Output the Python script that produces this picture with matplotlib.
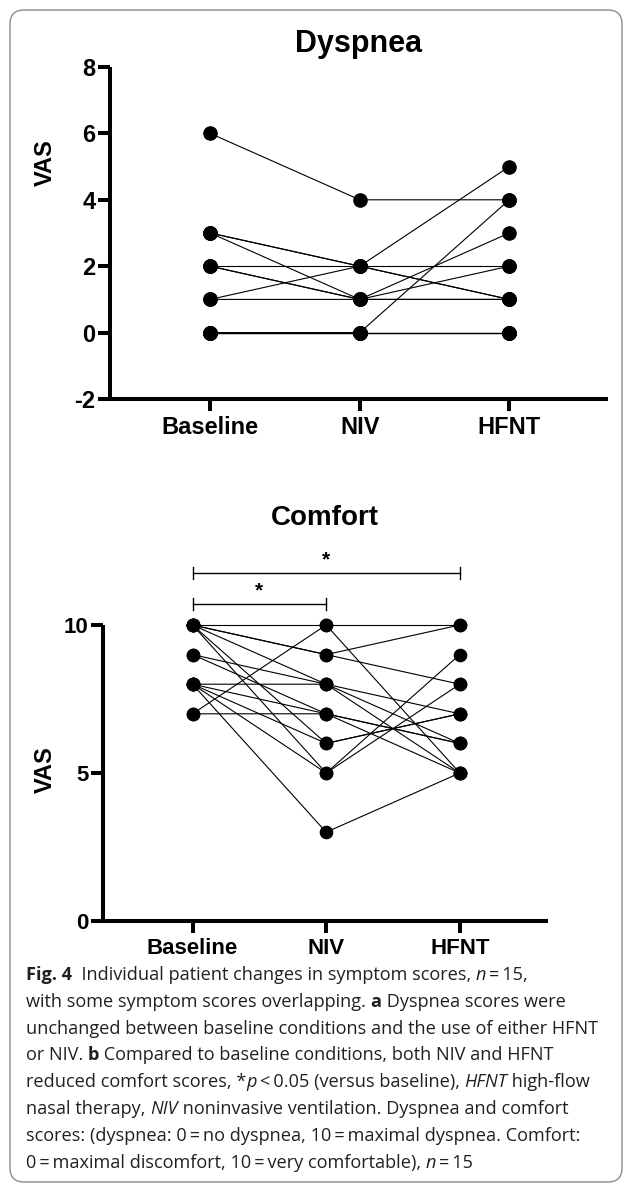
import matplotlib
matplotlib.use("Agg")
import matplotlib.pyplot as plt
from matplotlib.patches import FancyBboxPatch

# individual patients: score at baseline, NIV, HFNT
categories = ["Baseline", "NIV", "HFNT"]

dysp_baseline = [6, 3, 3, 2, 1, 3, 2, 2, 1, 0, 0, 0, 0, 0, 0]
dysp_niv = [4, 2, 2, 2, 2, 1, 1, 1, 1, 0, 0, 0, 0, 0, 0]
dysp_hfnt = [4, 1, 1, 2, 5, 3, 1, 1, 2, 4, 0, 0, 0, 0, 0]
dysp_ticks = [-2, 0, 2, 4, 6, 8]

comf_baseline = [10, 7, 10, 10, 10, 9, 8, 7, 9, 8, 10, 8, 10, 8, 8]
comf_niv = [10, 10, 9, 9, 8, 8, 8, 7, 7, 7, 6, 6, 5, 5, 3]
comf_hfnt = [10, 5, 10, 8, 7, 6, 5, 6, 6, 5, 7, 7, 9, 8, 5]
comf_ticks = [0, 5, 10]

# significance brackets (from, to, label)
brackets = [(0, 1, "*"), (0, 2, "*")]

W, H = 630, 1190
plt.rcParams['font.family'] = ['Liberation Sans', 'DejaVu Sans']
plt.rcParams['axes.unicode_minus'] = False
fig = plt.figure(figsize=(W / 100, H / 100), dpi=100)


def px_axes(left, top, right, bottom):
    return fig.add_axes([left / W, 1 - bottom / H, (right - left) / W, (bottom - top) / H])


def style_axes(ax, ylab_size, xlab_size):
    for s in ["top", "right"]:
        ax.spines[s].set_visible(False)
    for s in ["left", "bottom"]:
        ax.spines[s].set_linewidth(2.9)
        ax.spines[s].set_capstyle("butt")
    ax.tick_params(axis="both", direction="out", length=8.5, width=2.9, pad=2)
    ax.set_xticks(range(len(categories)))
    ax.set_xticklabels(categories, fontsize=xlab_size, fontweight="bold")
    ax.tick_params(axis="x", pad=4)
    for t in ax.get_yticklabels():
        t.set_fontsize(ylab_size)
        t.set_fontweight("bold")
    ax.set_xlim(-0.67, 2.66)


def draw_patients(ax, b, n, h, ms):
    for i in range(len(b)):
        ax.plot([0, 1, 2], [b[i], n[i], h[i]], color="black", lw=0.8,
                marker="o", ms=ms, mfc="black", mec="black", clip_on=False, zorder=3)


# ---- Dyspnea
ax1 = px_axes(110, 67, 608, 399)
draw_patients(ax1, dysp_baseline, dysp_niv, dysp_hfnt, 9.5)
ax1.set_ylim(-2, 8)
ax1.set_yticks(dysp_ticks)
style_axes(ax1, 17, 17)
fig.text(359 / W, 1 - 44 / H, "Dyspnea", ha="center", va="center", fontsize=22, fontweight="bold")
fig.text(45 / W, 1 - 163 / H, "VAS", ha="center", va="center", rotation=90, fontsize=17, fontweight="bold")

# ---- Comfort
ax2 = px_axes(103, 625, 548, 921)
draw_patients(ax2, comf_baseline, comf_niv, comf_hfnt, 8.8)
ax2.set_ylim(0, 10)
ax2.set_yticks(comf_ticks)
style_axes(ax2, 16, 16)
fig.text(325 / W, 1 - 518 / H, "Comfort", ha="center", va="center", fontsize=20, fontweight="bold")
fig.text(45 / W, 1 - 770 / H, "VAS", ha="center", va="center", rotation=90, fontsize=17, fontweight="bold")

bracket_y = [10.71, 11.76]
for (x0, x1, lab), yb in zip(brackets, bracket_y):
    ax2.plot([x0, x1], [yb, yb], color="black", lw=1.0, clip_on=False)
    for xe in (x0, x1):
        ax2.plot([xe, xe], [yb - 0.2, yb + 0.2], color="black", lw=1.0, clip_on=False)
    ax2.text((x0 + x1) / 2, yb + 0.45, lab, ha="center", va="center", fontsize=15, fontweight="bold")

# ---- border
fig.patches.append(FancyBboxPatch((0.10, 0.08), 6.12, 11.72,
                                  boxstyle="round,pad=0,rounding_size=0.14",
                                  transform=fig.dpi_scale_trans, fill=False,
                                  edgecolor="#8a8a8a", lw=1.0))

# ---- caption
cap_font = ['Open Sans', 'DejaVu Sans']
cap_size = 13.1
cap_color = "#231f20"
renderer = fig.canvas.get_renderer()


def run_width(txt, weight, style):
    t1 = fig.text(0, 0, txt + "x", fontsize=cap_size, family=cap_font, fontweight=weight, fontstyle=style)
    t2 = fig.text(0, 0, "x", fontsize=cap_size, family=cap_font, fontweight=weight, fontstyle=style)
    w = t1.get_window_extent(renderer).width - t2.get_window_extent(renderer).width
    t1.remove()
    t2.remove()
    return w


def draw_line(y, runs, x=26):
    for txt, weight, style in runs:
        fig.text(x / W, 1 - y / H, txt, fontsize=cap_size, family=cap_font, fontweight=weight,
                 fontstyle=style, color=cap_color, va="baseline", ha="left")
        x += run_width(txt, weight, style)


N, B, I = ("normal", "normal"), ("bold", "normal"), ("normal", "italic")
eq = "\u2009=\u2009"
caption = [
    [("Fig. 4", *B), ("  Individual patient changes in symptom scores, ", *N), ("n", *I), (eq + "15,", *N)],
    [("with some symptom scores overlapping. ", *N), ("a", *B), (" Dyspnea scores were", *N)],
    [("unchanged between baseline conditions and the use of either HFNT", *N)],
    [("or NIV. ", *N), ("b", *B), (" Compared to baseline conditions, both NIV and HFNT", *N)],
    [("reduced comfort scores, *", *N), ("p", *I), ("\u2009<\u20090.05 (versus baseline), ", *N),
     ("HFNT", *I), (" high-flow", *N)],
    [("nasal therapy, ", *N), ("NIV", *I), (" noninvasive ventilation. Dyspnea and comfort", *N)],
    [("scores: (dyspnea: 0" + eq + "no dyspnea, 10" + eq + "maximal dyspnea. Comfort:", *N)],
    [("0" + eq + "maximal discomfort, 10" + eq + "very comfortable), ", *N), ("n", *I), (eq + "15", *N)],
]
for k, runs in enumerate(caption):
    draw_line(980 + k * 26.8, runs)

fig.savefig("out.png", dpi=100)
